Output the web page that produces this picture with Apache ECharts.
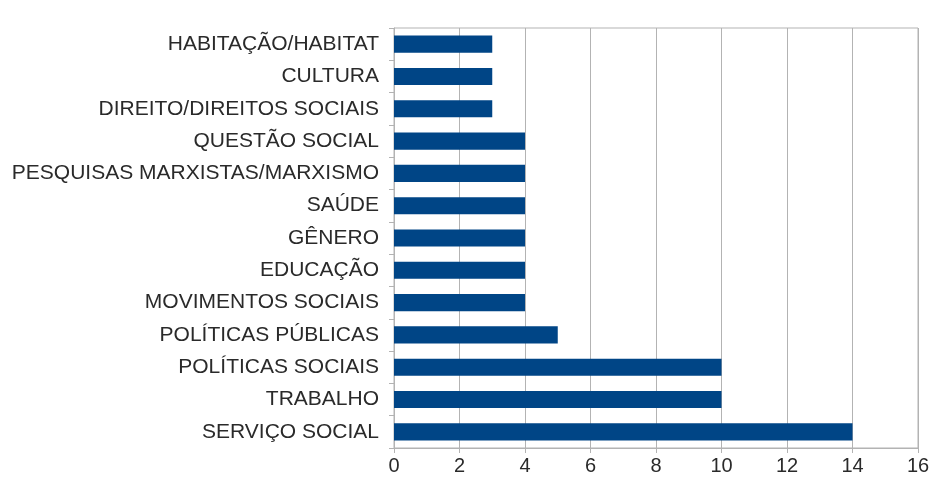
<!DOCTYPE html>
<html><head><meta charset="utf-8">
<script src="https://cdn.jsdelivr.net/npm/echarts@6/dist/echarts.min.js"></script>
<style>html,body{margin:0;padding:0;background:#fff}#c{width:933px;height:483px}</style>
</head><body><div id="c"></div>
<script>
const categories = ["SERVIÇO SOCIAL","TRABALHO","POLÍTICAS SOCIAIS","POLÍTICAS PÚBLICAS","MOVIMENTOS SOCIAIS","EDUCAÇÃO","GÊNERO","SAÚDE","PESQUISAS MARXISTAS/MARXISMO","QUESTÃO SOCIAL","DIREITO/DIREITOS SOCIAIS","CULTURA","HABITAÇÃO/HABITAT"];
const values = [14,10,10,5,4,4,4,4,4,4,3,3,3];
const xTicks = {min:0, max:16, interval:2};
const chart = echarts.init(document.getElementById('c'), null, {renderer:'canvas'});
chart.setOption({
  animation:false,
  grid:{left:394, right:15, top:28, bottom:35, show:true, borderColor:'#b3b3b3', borderWidth:1},
  xAxis:{type:'value', min:xTicks.min, max:xTicks.max, interval:xTicks.interval,
    axisLine:{show:true, lineStyle:{color:'#b3b3b3'}},
    axisTick:{show:true, length:5, lineStyle:{color:'#b3b3b3'}},
    splitLine:{show:true, lineStyle:{color:'#b3b3b3'}},
    axisLabel:{color:'#2a2a2a', fontFamily:'Liberation Sans', fontSize:20, margin:8}},
  yAxis:{type:'category', data:categories,
    axisLine:{show:true, lineStyle:{color:'#b3b3b3'}},
    axisTick:{show:true, length:5, lineStyle:{color:'#b3b3b3'}},
    axisLabel:{color:'#2a2a2a', fontFamily:'Liberation Sans', fontSize:21, margin:15}},
  series:[{type:'bar', data:values, barWidth:'53%', itemStyle:{color:'#004586'}}]
});
</script></body></html>
